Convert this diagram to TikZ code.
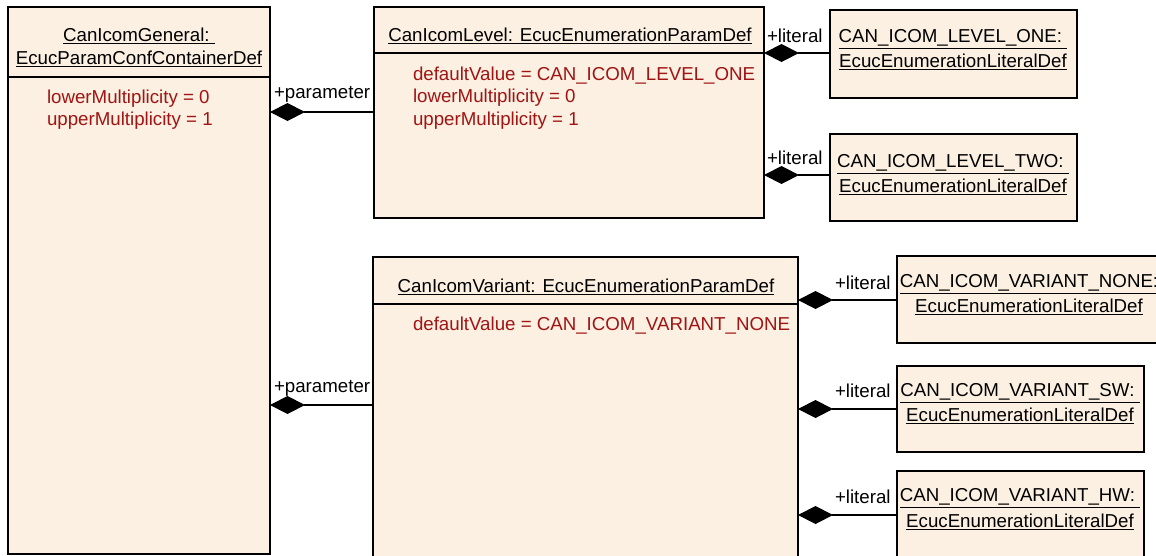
\documentclass[tikz,border=0pt]{standalone}
\usepackage{fontspec}
\setmainfont{Liberation Sans}
\usetikzlibrary{arrows.meta}
\definecolor{boxfill}{RGB}{251,240,225}
\definecolor{attrred}{RGB}{160,20,20}
\tikzset{
  every node/.style={font=\fontsize{18.7}{22}\selectfont, inner sep=0pt, outer sep=0pt},
  umlbox/.style={draw=black, fill=boxfill, line width=1.4pt, rectangle},
  sepline/.style={draw=black, line width=1.2pt},
  ttl/.style={anchor=center, align=center},
  attr/.style={anchor=west, text=attrred},
  lbl/.style={anchor=west, text=black},
  comp/.style={draw=black, line width=1.3pt, {Diamond[length=35pt,width=18pt]}-},
}
\begin{document}
\begin{tikzpicture}[x=1pt,y=-1pt]
\useasboundingbox (0,0) rectangle (1156,555);
\clip (0,0) rectangle (1156,555);

% CanIcomGeneral
\node[umlbox, minimum width=262pt, minimum height=547pt] (gen) at (139,280.5) {};
\draw[sepline] (gen.west |- 0,77) -- (gen.east |- 0,77);
\node[ttl] (genT1) at (139,36) {\underline{CanIcomGeneral:\ }};
\node[ttl] (genT2) at (139,59) {\underline{EcucParamConfContainerDef}};
\node[attr] (genA1) at (47,99) {lowerMultiplicity = 0};
\node[attr] (genA2) at (47,121) {upperMultiplicity = 1};

% CanIcomLevel
\node[umlbox, minimum width=390pt, minimum height=211pt] (lvl) at (569,112.5) {};
\draw[sepline] (lvl.west |- 0,53) -- (lvl.east |- 0,53);
\node[ttl] (lvlT) at (570,36) {\underline{CanIcomLevel: EcucEnumerationParamDef}};
\node[attr] (lvlA1) at (413,76) {defaultValue = CAN\_ICOM\_LEVEL\_ONE};
\node[attr] (lvlA2) at (413,98) {lowerMultiplicity = 0};
\node[attr] (lvlA3) at (413,121) {upperMultiplicity = 1};

% CanIcomVariant
\node[umlbox, minimum width=425pt, minimum height=310pt] (var) at (585.5,412) {};
\draw[sepline] (var.west |- 0,304) -- (var.east |- 0,304);
\node[ttl] (varT) at (586,287) {\underline{CanIcomVariant: EcucEnumerationParamDef}};
\node[attr] (varA1) at (413,326) {defaultValue = CAN\_ICOM\_VARIANT\_NONE};

% Literal boxes
\node[umlbox, minimum width=247pt, minimum height=88pt] (one) at (953.5,54) {};
\node[ttl] (oneT1) at (953,39) {\underline{CAN\_ICOM\_LEVEL\_ONE:\ }};
\node[ttl] (oneT2) at (953,62) {\underline{EcucEnumerationLiteralDef}};

\node[umlbox, minimum width=247pt, minimum height=87pt] (two) at (953.5,177.5) {};
\node[ttl] (twoT1) at (953,164) {\underline{CAN\_ICOM\_LEVEL\_TWO:\ }};
\node[ttl] (twoT2) at (953,187) {\underline{EcucEnumerationLiteralDef}};

\node[umlbox, minimum width=265pt, minimum height=87pt] (none) at (1029.5,299.5) {};
\node[ttl] (noneT1) at (1029,284) {\underline{CAN\_ICOM\_VARIANT\_NONE:}};
\node[ttl] (noneT2) at (1029,307) {\underline{EcucEnumerationLiteralDef}};

\node[umlbox, minimum width=247pt, minimum height=86pt] (sw) at (1020.5,409) {};
\node[ttl] (swT1) at (1020,393) {\underline{CAN\_ICOM\_VARIANT\_SW:\ }};
\node[ttl] (swT2) at (1020,416) {\underline{EcucEnumerationLiteralDef}};

\node[umlbox, minimum width=247pt, minimum height=95pt] (hw) at (1020.5,518.5) {};
\node[ttl] (hwT1) at (1020,498) {\underline{CAN\_ICOM\_VARIANT\_HW:\ }};
\node[ttl] (hwT2) at (1020,522) {\underline{EcucEnumerationLiteralDef}};

% Connectors
\draw[comp] (gen.east |- 0,112) -- (lvl.west |- 0,112);
\node[lbl] (p1) at (274,94) {+parameter};
\draw[comp] (gen.east |- 0,405) -- (var.west |- 0,405);
\node[lbl] (p2) at (274,388) {+parameter};

\draw[comp] (lvl.east |- 0,53) -- (one.west |- 0,53);
\node[lbl] (l1) at (767,36) {+literal};
\draw[comp] (lvl.east |- 0,175) -- (two.west |- 0,175);
\node[lbl] (l2) at (767,158) {+literal};

\draw[comp] (var.east |- 0,300) -- (none.west |- 0,300);
\node[lbl] (l3) at (835,283) {+literal};
\draw[comp] (var.east |- 0,409) -- (sw.west |- 0,409);
\node[lbl] (l4) at (835,391) {+literal};
\draw[comp] (var.east |- 0,515) -- (hw.west |- 0,515);
\node[lbl] (l5) at (835,497) {+literal};
\end{tikzpicture}
\end{document}
